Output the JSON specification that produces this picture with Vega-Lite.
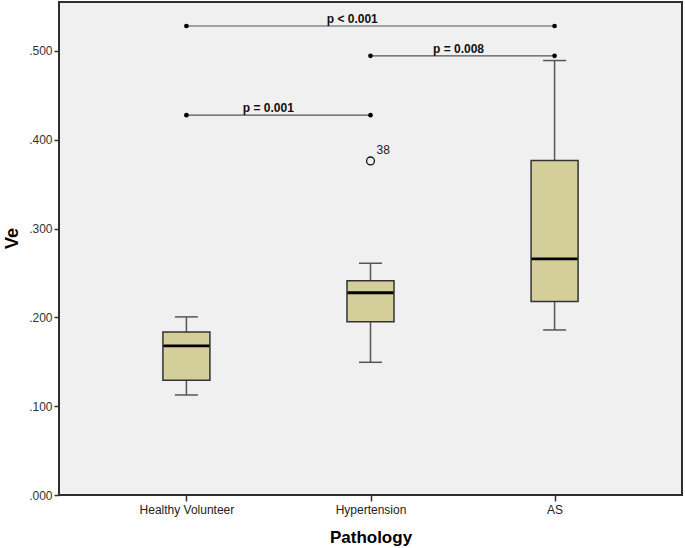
{
  "$schema": "https://vega.github.io/schema/vega-lite/v6.json",
  "width": 623,
  "height": 493,
  "autosize": "none",
  "padding": {"left": 59, "top": 2, "right": 3, "bottom": 53},
  "background": "#ffffff",
  "config": {
    "view": {"fill": "#f0f0f0", "stroke": "#2e2e2e", "strokeWidth": 2},
    "font": "Liberation Sans"
  },
  "datasets": {
    "boxes": [
      {"group": 0, "name": "Healthy Volunteer", "lower": 0.1126, "q1": 0.1292, "median": 0.1678, "q3": 0.1836, "upper": 0.2005},
      {"group": 1, "name": "Hypertension", "lower": 0.1494, "q1": 0.1951, "median": 0.2277, "q3": 0.2413, "upper": 0.2609},
      {"group": 2, "name": "AS", "lower": 0.1858, "q1": 0.2177, "median": 0.2658, "q3": 0.3765, "upper": 0.4891}
    ],
    "outliers": [
      {"group": 1, "value": 0.3761, "case": "38"}
    ],
    "sig": [
      {"from": 0, "to": 2, "y": 0.528, "label": "p < 0.001", "labelAt": 0.901},
      {"from": 1, "to": 2, "y": 0.4944, "label": "p = 0.008", "labelAt": 1.478},
      {"from": 0, "to": 1, "y": 0.4276, "label": "p = 0.001", "labelAt": 0.445}
    ]
  },
  "encoding": {
    "y": {
      "type": "quantitative",
      "scale": {"domain": [0, 0.555], "nice": false, "zero": true},
      "axis": {
        "title": "Ve",
        "values": [0, 0.1, 0.2, 0.3, 0.4, 0.5],
        "labelExpr": "replace(format(datum.value, '.3f'), '0.', '.')",
        "grid": false,
        "domain": false,
        "tickSize": 5,
        "tickWidth": 1.5,
        "tickColor": "#333333",
        "labelPadding": 2,
        "labelFontSize": 12,
        "labelColor": "#333333",
        "titleFontSize": 18,
        "titleFontWeight": "bold",
        "titleColor": "#000000",
        "titleX": -47,
        "titleY": 236,
        "titleAlign": "center",
        "titleBaseline": "middle",
        "titleAngle": -90
      }
    }
  },
  "layer": [
    {
      "data": {"name": "boxes"},
      "mark": {"type": "rule", "color": "#555555", "strokeWidth": 1.5},
      "encoding": {
        "x": {
          "field": "group",
          "type": "quantitative",
          "scale": {"domain": [-0.665, 2.665], "nice": false, "zero": false},
          "axis": {
            "title": "Pathology",
            "values": [0, 1, 2],
            "labelExpr": "datum.value == 0 ? 'Healthy Volunteer' : datum.value == 1 ? 'Hypertension' : 'AS'",
            "grid": false,
            "domain": false,
            "tickSize": 6,
            "tickWidth": 1.5,
            "tickColor": "#333333",
            "labelPadding": 3,
            "labelFontSize": 12,
            "labelColor": "#222222",
            "titleFontSize": 17,
            "titleFontWeight": "bold",
            "titleColor": "#000000",
            "titleY": 42,
            "titleBaseline": "middle"
          }
        },
        "y": {"field": "lower"},
        "y2": {"field": "upper"}
      }
    },
    {
      "data": {"name": "boxes"},
      "mark": {"type": "tick", "orient": "horizontal", "color": "#555555", "size": 23, "thickness": 1.5, "opacity": 1},
      "encoding": {
        "x": {"field": "group", "type": "quantitative"},
        "y": {"field": "lower"}
      }
    },
    {
      "data": {"name": "boxes"},
      "mark": {"type": "tick", "orient": "horizontal", "color": "#555555", "size": 23, "thickness": 1.5, "opacity": 1},
      "encoding": {
        "x": {"field": "group", "type": "quantitative"},
        "y": {"field": "upper"}
      }
    },
    {
      "data": {"name": "boxes"},
      "mark": {"type": "bar", "orient": "vertical", "size": 47, "fill": "#d4cf9a", "stroke": "#333333", "strokeWidth": 1.5},
      "encoding": {
        "x": {"field": "group", "type": "quantitative"},
        "y": {"field": "q1"},
        "y2": {"field": "q3"}
      }
    },
    {
      "data": {"name": "boxes"},
      "mark": {"type": "tick", "orient": "horizontal", "color": "#000000", "size": 46, "thickness": 2.8, "opacity": 1},
      "encoding": {
        "x": {"field": "group", "type": "quantitative"},
        "y": {"field": "median"}
      }
    },
    {
      "data": {"name": "outliers"},
      "mark": {"type": "point", "shape": "circle", "filled": false, "size": 62, "stroke": "#111111", "strokeWidth": 1.3, "opacity": 1},
      "encoding": {
        "x": {"field": "group", "type": "quantitative"},
        "y": {"field": "value"}
      }
    },
    {
      "data": {"name": "outliers"},
      "mark": {"type": "text", "align": "left", "baseline": "middle", "dx": 6, "dy": -11, "fontSize": 12, "color": "#222222"},
      "encoding": {
        "x": {"field": "group", "type": "quantitative"},
        "y": {"field": "value"},
        "text": {"field": "case"}
      }
    },
    {
      "data": {"name": "sig"},
      "mark": {"type": "rule", "color": "#555555", "strokeWidth": 1.2},
      "encoding": {
        "x": {"field": "from", "type": "quantitative"},
        "x2": {"field": "to"},
        "y": {"field": "y"}
      }
    },
    {
      "data": {"name": "sig"},
      "mark": {"type": "point", "shape": "circle", "filled": true, "size": 22, "color": "#000000", "opacity": 1},
      "encoding": {
        "x": {"field": "from", "type": "quantitative"},
        "y": {"field": "y"}
      }
    },
    {
      "data": {"name": "sig"},
      "mark": {"type": "point", "shape": "circle", "filled": true, "size": 22, "color": "#000000", "opacity": 1},
      "encoding": {
        "x": {"field": "to", "type": "quantitative"},
        "y": {"field": "y"}
      }
    },
    {
      "data": {"name": "sig"},
      "mark": {"type": "text", "align": "center", "baseline": "alphabetic", "dy": -3, "fontSize": 12, "fontWeight": "bold", "color": "#111111"},
      "encoding": {
        "x": {"field": "labelAt", "type": "quantitative"},
        "y": {"field": "y"},
        "text": {"field": "label"}
      }
    }
  ]
}
